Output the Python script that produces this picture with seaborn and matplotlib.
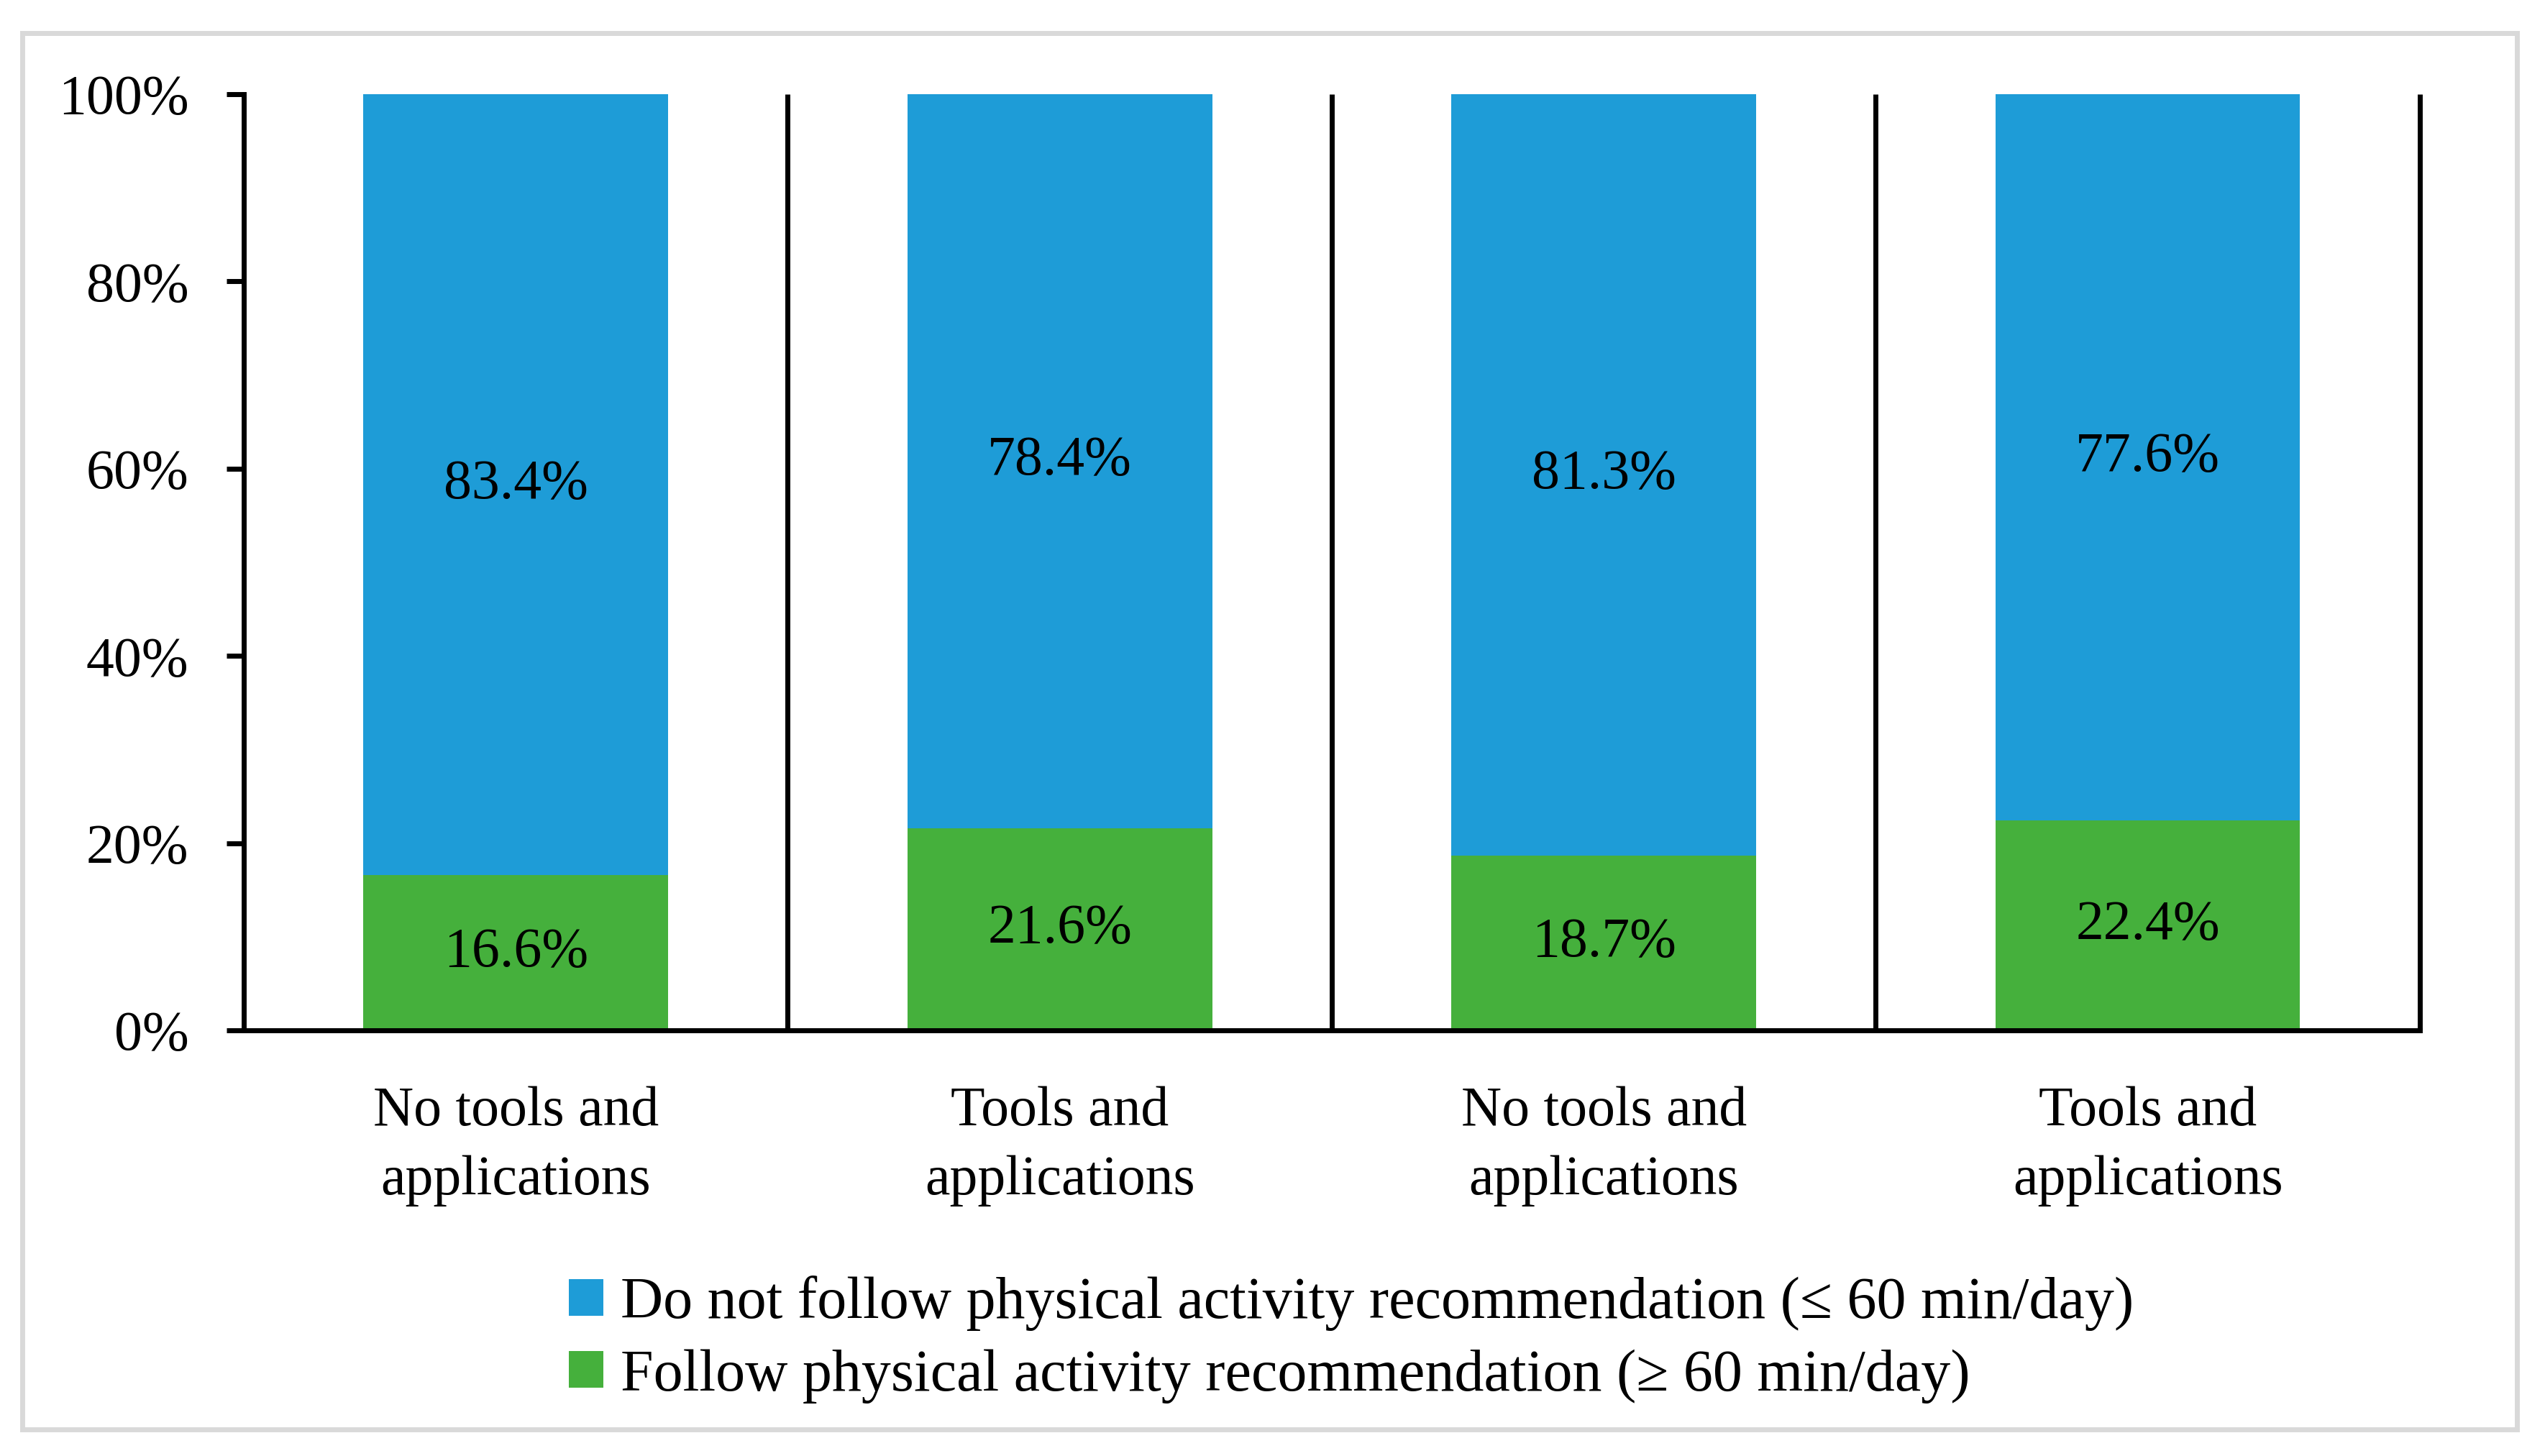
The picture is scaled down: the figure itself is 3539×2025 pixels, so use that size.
import numpy as np
import pandas as pd
import seaborn as sns
import matplotlib.pyplot as plt
from matplotlib.patches import Rectangle

# datos del gráfico
grupos = ["No tools and\napplications", "Tools and\napplications",
          "No tools and\napplications", "Tools and\napplications"]
no_cumple = [83.4, 78.4, 81.3, 77.6]
cumple = [16.6, 21.6, 18.7, 22.4]
etiquetas_serie = ["Do not follow physical activity recommendation (≤ 60 min/day)",
                   "Follow physical activity recommendation (≥ 60 min/day)"]
yticks = [0, 20, 40, 60, 80, 100]

azul = "#1E9CD7"
verde = "#45B03C"

sns.set_theme(style="white")
plt.rcParams['font.family'] = ['Liberation Serif', 'DejaVu Serif']
plt.rcParams['text.color'] = 'black'

df = pd.DataFrame({"pos": np.arange(len(grupos)),
                   "no_cumple": no_cumple,
                   "cumple": cumple})
df["total"] = df["no_cumple"] + df["cumple"]

fig = plt.figure(figsize=(17.695, 10.125), dpi=200)
ax = fig.add_axes([0.0958, 0.2923, 0.8550, 0.6430])

# barras apiladas: total en azul, cumple encima en verde
sns.barplot(data=df, x="pos", y="total", color=azul, width=0.56, linewidth=0,
            errorbar=None, saturation=1, ax=ax)
sns.barplot(data=df, x="pos", y="cumple", color=verde, width=0.56, linewidth=0,
            errorbar=None, saturation=1, ax=ax)

# etiquetas de valores
for i, row in df.iterrows():
    ax.text(row["pos"], row["cumple"] + row["no_cumple"] / 2, f"{row['no_cumple']:.1f}%",
            ha="center", va="center", fontsize=28, color="black")
    ax.text(row["pos"], row["cumple"] / 2, f"{row['cumple']:.1f}%",
            ha="center", va="center", fontsize=28, color="black")

# separadores entre categorías
n = len(grupos)
ax.vlines(np.arange(n) + 0.5, 0, 100, color="black", lw=2.5, clip_on=False)

ax.set_xlim(-0.5, n - 0.5)
ax.set_ylim(0, 100)
ax.set_yticks(yticks)
ax.set_yticklabels([f"{t}%" for t in yticks], fontsize=28)
ax.set_xticks(np.arange(n))
ax.set_xticklabels(grupos, fontsize=28, linespacing=1.45)
ax.set_xlabel("")
ax.set_ylabel("")

for lado in ["top", "right"]:
    ax.spines[lado].set_visible(False)
for lado in ["left", "bottom"]:
    ax.spines[lado].set_color("black")
    ax.spines[lado].set_linewidth(2.5)
ax.tick_params(axis="y", length=8.6, width=2.5, pad=19, colors="black", left=True)
ax.tick_params(axis="x", length=0, pad=28, colors="black")

handles = [ax.containers[0], ax.containers[1]]
fig.legend(handles, etiquetas_serie, loc="center", bbox_to_anchor=(0.531, 0.080),
           frameon=False, fontsize=29.5, handlelength=0.58, handleheight=0.58,
           handletextpad=0.3, labelspacing=0.3, borderpad=0)

# marco gris exterior
fig.patches.append(Rectangle((31 / 3539, 1 - 1988 / 2025), (3500 - 31) / 3539, (1988 - 46) / 2025,
                             transform=fig.transFigure, fill=False,
                             edgecolor="#D9D9D9", lw=2.5))

fig.savefig("out.png", dpi=200)
